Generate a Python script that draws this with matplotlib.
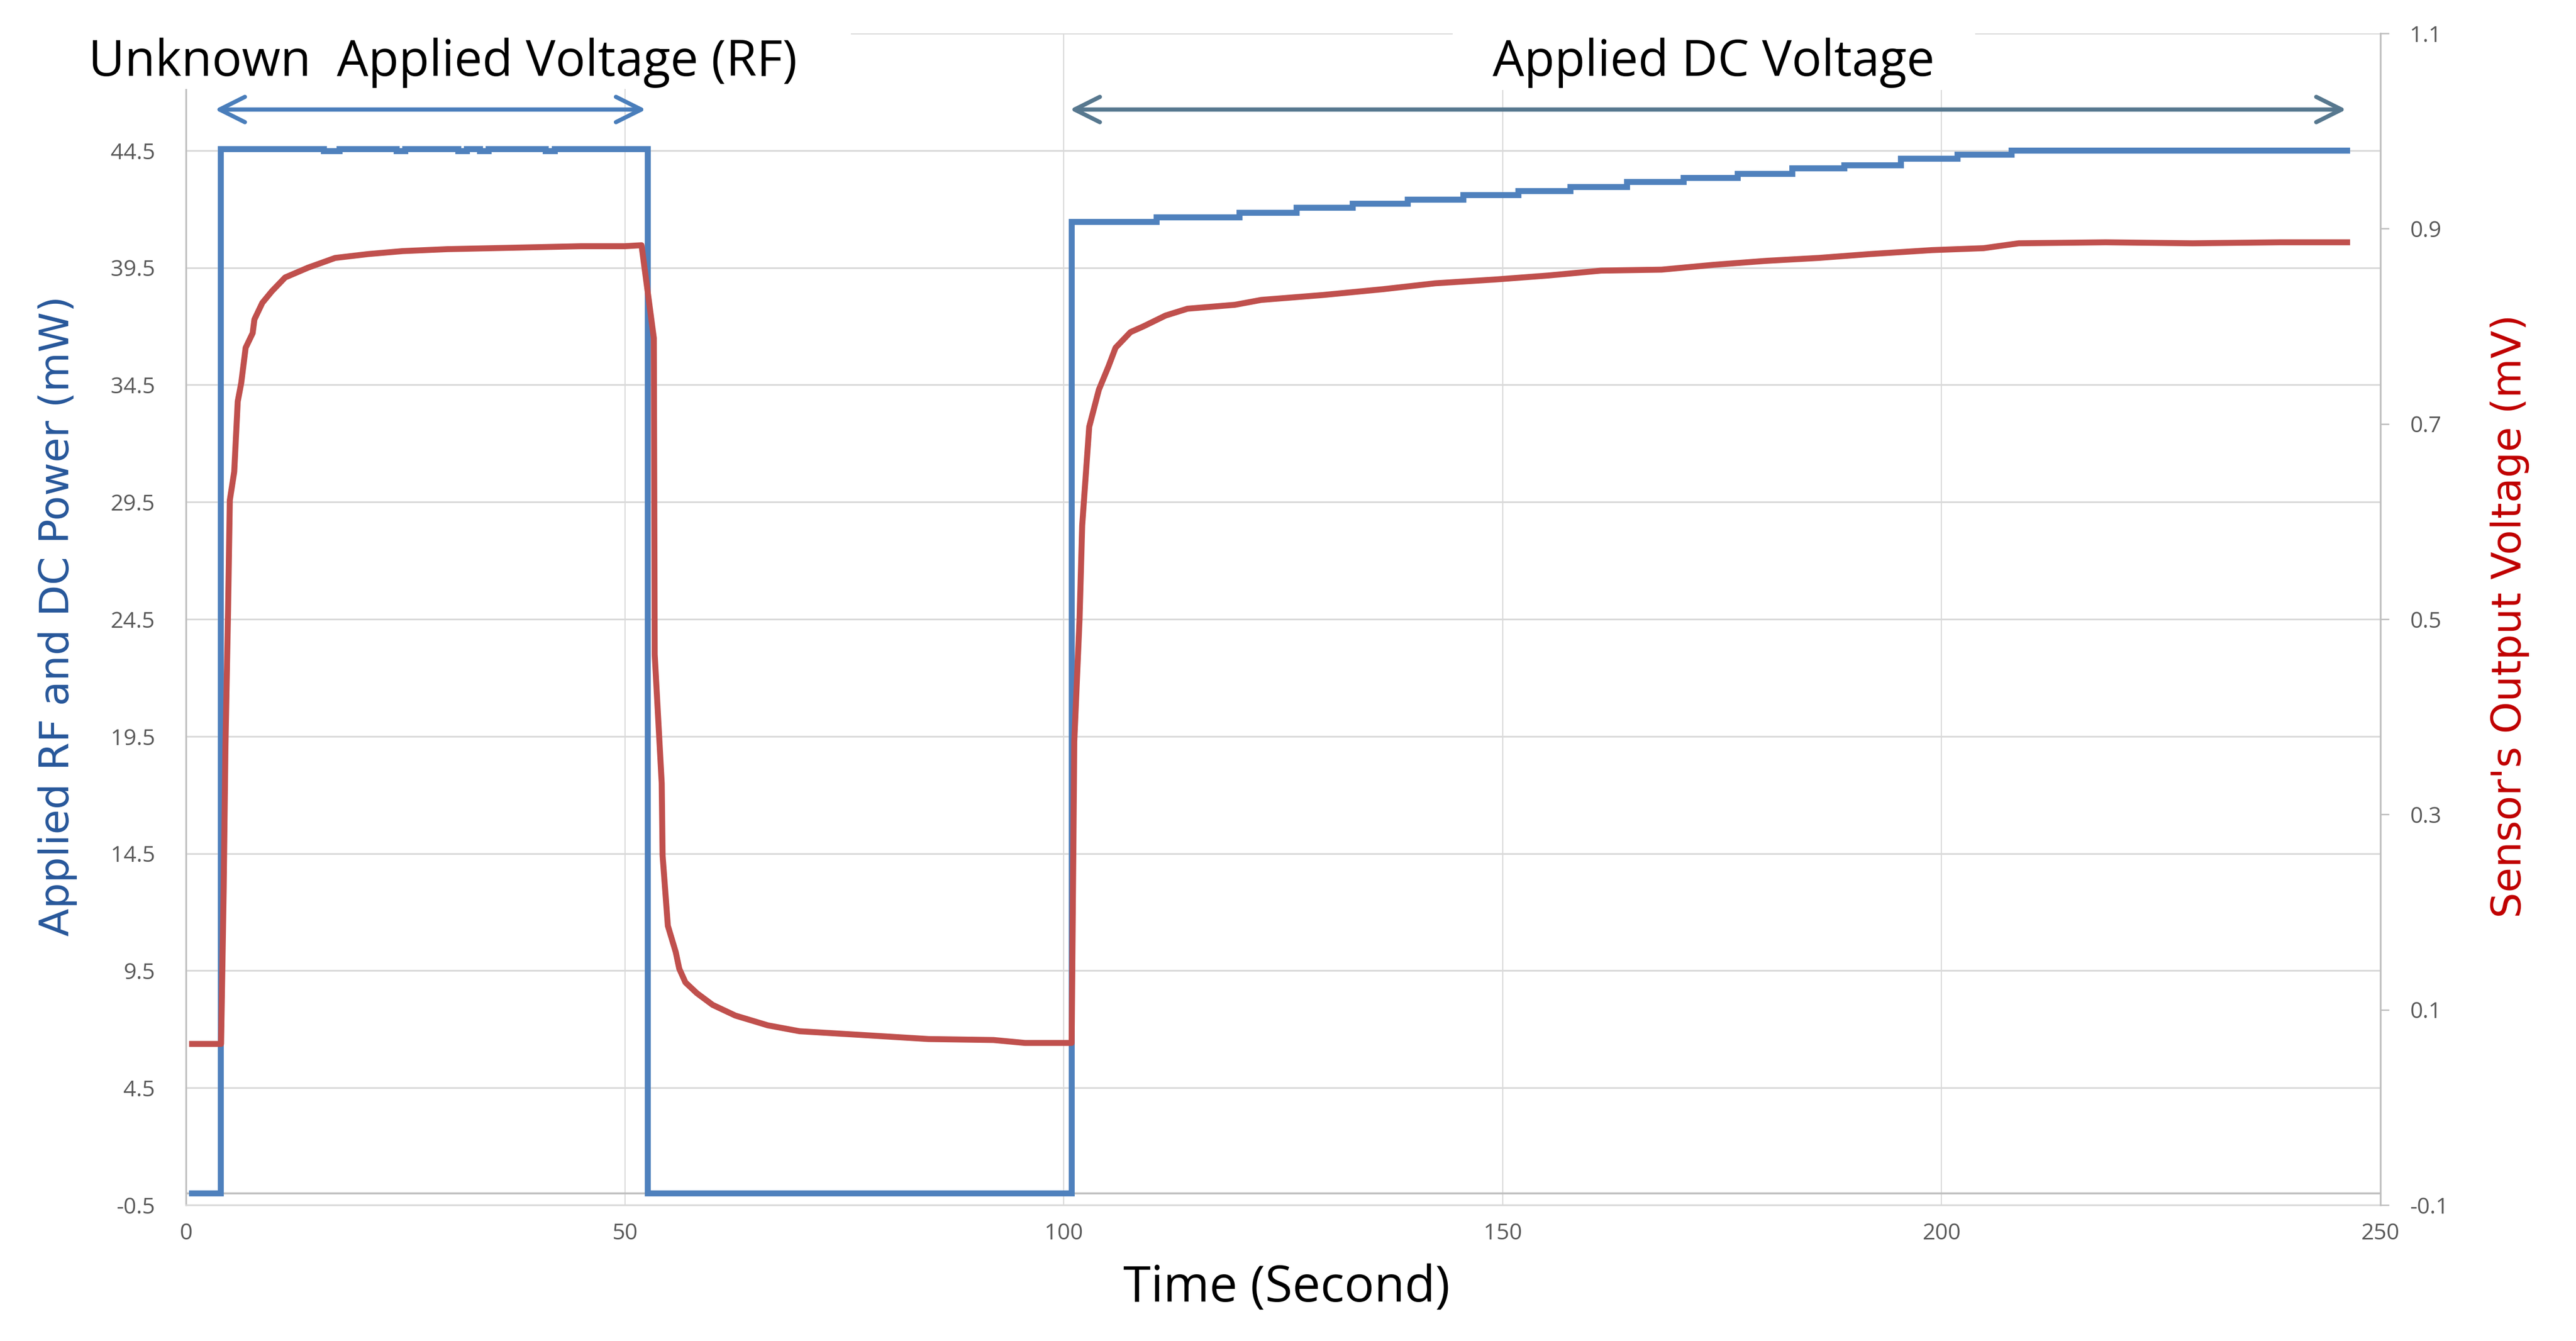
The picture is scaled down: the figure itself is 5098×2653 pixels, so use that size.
import numpy as np
import matplotlib
matplotlib.use("Agg")
import matplotlib.pyplot as plt
from matplotlib.patches import Rectangle, FancyArrowPatch

# ---------------- data ----------------
# Applied RF / DC power (mW), step series (value holds until next time)
blue_t = [0.7, 4.0, 15.7, 17.5, 24.0, 25.0, 31.0, 32.0, 33.5, 34.5, 41.0, 42.0,
          52.6, 100.9, 110.6, 120.0, 126.5, 132.9, 139.2, 145.5, 151.8, 157.7,
          164.2, 170.6, 176.8, 183.0, 188.9, 195.4, 201.8, 208.0, 246.2]
blue_mw = [0.0, 44.55, 44.48, 44.55, 44.48, 44.55, 44.48, 44.55, 44.48, 44.55, 44.48, 44.55,
           0.0, 41.45, 41.65, 41.85, 42.05, 42.23, 42.41, 42.59, 42.77, 42.95,
           43.15, 43.33, 43.51, 43.74, 43.87, 44.14, 44.32, 44.50, 44.50]

# Sensor output voltage (mV)
red_t = [0.7, 4.0, 4.3, 4.5, 4.8, 5.0, 5.5, 5.9, 6.3, 6.8, 7.6, 7.8, 8.7, 9.8, 11.3,
         13.9, 17.0, 20.8, 24.7, 29.8, 35.0, 40.0, 45.0, 50.0, 51.9,
         53.3, 53.4, 54.2, 54.3, 54.9, 55.8, 56.2, 56.9, 58.2, 60.0, 62.6, 66.3, 69.9,
         77.3, 84.6, 92.0, 95.6, 100.9,
         101.2, 101.8, 102.1, 102.9, 104.0, 105.1, 105.9, 107.6, 109.1, 111.6, 114.1,
         119.5, 122.5, 129.5, 136.4, 142.3, 149.3, 155.2, 161.2, 168.1, 174.1, 180.0,
         186.0, 191.9, 198.9, 204.8, 208.8, 218.7, 228.6, 238.5, 246.2]
red_mv = [0.065, 0.065, 0.224, 0.370, 0.510, 0.622, 0.651, 0.723, 0.742, 0.778, 0.793, 0.807,
          0.824, 0.836, 0.850, 0.860, 0.870, 0.874, 0.877, 0.879, 0.880, 0.881, 0.882, 0.882,
          0.883,
          0.788, 0.464, 0.332, 0.258, 0.186, 0.159, 0.142, 0.128, 0.117, 0.105, 0.094, 0.084,
          0.078, 0.074, 0.070, 0.069, 0.066, 0.066,
          0.375, 0.500, 0.596, 0.697, 0.735, 0.759, 0.778, 0.794, 0.800, 0.811, 0.818,
          0.822, 0.827, 0.832, 0.838, 0.844, 0.848, 0.852, 0.857, 0.858, 0.863, 0.867,
          0.870, 0.874, 0.878, 0.880, 0.885, 0.886, 0.885, 0.886, 0.886]

x_ticks = [0, 50, 100, 150, 200, 250]
left_ticks = [-0.5, 4.5, 9.5, 14.5, 19.5, 24.5, 29.5, 34.5, 39.5, 44.5, 49.5]
# the 49.5 label is hidden under the title box in the original
left_labels = ["-0.5", "4.5", "9.5", "14.5", "19.5", "24.5", "29.5", "34.5", "39.5", "44.5", ""]
right_ticks = [-0.1, 0.1, 0.3, 0.5, 0.7, 0.9, 1.1]
right_labels = ["-0.1", "0.1", "0.3", "0.5", "0.7", "0.9", "1.1"]

# ---------------- figure ----------------
W, H = 5098, 2653
fig = plt.figure(figsize=(W / 100, H / 100), dpi=100)
fig.patch.set_facecolor("white")

ax = fig.add_axes([368 / W, 1 - 2384 / H, (4711 - 368) / W, (2384 - 66) / H])
ax.set_xlim(0, 250)
ax.set_ylim(-0.5, 49.5)

tick_font = "Open Sans"
tick_col = "#595959"
ax.set_xticks(x_ticks)
ax.set_xticklabels([str(v) for v in x_ticks], fontsize=32, color=tick_col, family=tick_font)
ax.set_yticks(left_ticks)
ax.set_yticklabels(left_labels, fontsize=32, color=tick_col, family=tick_font)
ax.tick_params(axis="both", length=0)
ax.tick_params(axis="x", pad=25)
ax.tick_params(axis="y", pad=44)

ax.xaxis.grid(True, color="#d9d9d9", lw=1.6)
ax.yaxis.grid(True, color="#d9d9d9", lw=2.4)
ax.set_axisbelow(True)
for s in ["top", "right"]:
    ax.spines[s].set_visible(False)
ax.spines["left"].set_color("#bfbfbf")
ax.spines["left"].set_linewidth(2.5)
ax.spines["bottom"].set_color("#d9d9d9")
ax.spines["bottom"].set_linewidth(2.4)
ax.axhline(0, color="#bfbfbf", lw=2.8, zorder=1.2)

ax.step(blue_t, blue_mw, where="post", color="#4F81BD", lw=8.5, zorder=3,
        solid_joinstyle="miter")

ax2 = ax.twinx()
ax2.set_ylim(-0.1, 1.1)
ax2.set_yticks(right_ticks)
ax2.set_yticklabels(right_labels, fontsize=32, color=tick_col, family=tick_font)
ax2.tick_params(axis="y", length=12, width=2, color="#bfbfbf", direction="out", pad=30)
for s in ["top", "left", "bottom"]:
    ax2.spines[s].set_visible(False)
ax2.spines["right"].set_color("#bfbfbf")
ax2.spines["right"].set_linewidth(2.5)
ax2.plot(red_t, red_mv, color="#C0504D", lw=8.5, zorder=4, solid_joinstyle="round")

# arrows (annotation shapes)
arr1 = FancyArrowPatch((3.3, 46.25), (52.4, 46.25), arrowstyle="<->,head_length=36,head_width=18",
                       mutation_scale=1, lw=6, color="#4A7EBB", shrinkA=0, shrinkB=0, zorder=5)
ax.add_patch(arr1)
arr2 = FancyArrowPatch((100.7, 46.25), (246.1, 46.25), arrowstyle="<->,head_length=36,head_width=18",
                       mutation_scale=1, lw=6, color="#57788F", shrinkA=0, shrinkB=0, zorder=5)
ax.add_patch(arr2)

# white text boxes at top
fig.patches.append(Rectangle((0, 1 - 176 / H), 1684 / W, 176 / H, transform=fig.transFigure,
                             facecolor="white", edgecolor="none", zorder=5))
fig.patches.append(Rectangle((2875 / W, 1 - 178 / H), (3909 - 2875) / W, 178 / H,
                             transform=fig.transFigure, facecolor="white", edgecolor="none", zorder=5))
fig.text(175 / W, 1 - 150 / H, "Unknown  Applied Voltage (RF)", fontsize=71, family="Open Sans",
         ha="left", va="baseline", color="black", zorder=6)
fig.text(2954 / W, 1 - 150 / H, "Applied DC Voltage", fontsize=71, family="Open Sans",
         ha="left", va="baseline", color="black", zorder=6)

# axis titles
fig.text(114 / W, 1 - 1219 / H, "Applied RF and DC Power (mW)", rotation=90, fontsize=58,
         family="DejaVu Sans", color="#27579A", ha="center", va="center")
fig.text(4967 / W, 1 - 1219 / H, "Sensor's Output Voltage (mV)", rotation=90, fontsize=58,
         family="DejaVu Sans", color="#C00000", ha="center", va="center")
fig.text(2546 / W, 1 - 2575 / H, "Time (Second)", fontsize=71, family="Open Sans",
         ha="center", va="baseline", color="black")

fig.savefig("out.png", dpi=100, facecolor="white")
